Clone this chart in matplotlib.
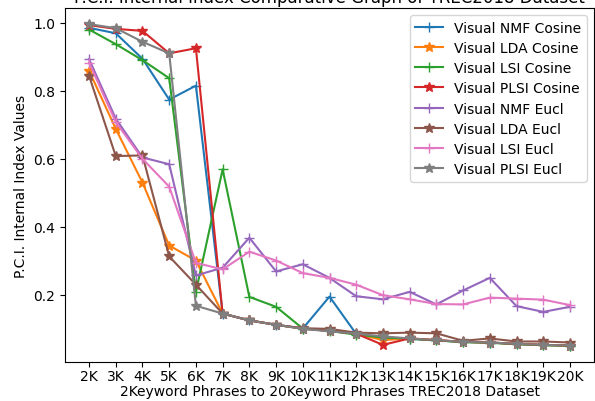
import matplotlib
matplotlib.use("Agg")
import matplotlib.pyplot as plt

labels = ['2K', '3K', '4K', '5K', '6K', '7K', '8K', '9K', '10K', '11K', '12K', '13K',
          '14K', '15K', '16K', '17K', '18K', '19K', '20K']

nmf_cos = [0.985, 0.969, 0.894, 0.774, 0.815, 0.145, 0.125, 0.112, 0.101, 0.195, 0.085,
           0.072, 0.071, 0.066, 0.062, 0.060, 0.056, 0.053, 0.051]
lda_cos = [0.859, 0.688, 0.530, 0.345, 0.301, 0.145, 0.125, 0.112, 0.101, 0.094, 0.086,
           0.067, 0.072, 0.067, 0.062, 0.060, 0.056, 0.053, 0.051]
lsi_cos = [0.980, 0.937, 0.890, 0.837, 0.209, 0.569, 0.194, 0.165, 0.101, 0.094, 0.083,
           0.075, 0.071, 0.066, 0.061, 0.059, 0.055, 0.052, 0.050]
plsi_cos = [0.993, 0.982, 0.976, 0.910, 0.925, 0.145, 0.125, 0.112, 0.101, 0.094, 0.086,
            0.053, 0.072, 0.067, 0.062, 0.060, 0.056, 0.053, 0.051]
nmf_eucl = [0.893, 0.718, 0.604, 0.584, 0.257, 0.280, 0.368, 0.269, 0.290, 0.250, 0.196,
            0.187, 0.209, 0.172, 0.213, 0.250, 0.167, 0.150, 0.165]
lda_eucl = [0.844, 0.608, 0.610, 0.313, 0.230, 0.145, 0.125, 0.112, 0.102, 0.100, 0.089,
            0.087, 0.089, 0.087, 0.065, 0.072, 0.063, 0.063, 0.060]
lsi_eucl = [0.883, 0.708, 0.600, 0.518, 0.294, 0.275, 0.327, 0.301, 0.264, 0.250, 0.230,
            0.199, 0.187, 0.173, 0.172, 0.192, 0.189, 0.186, 0.170]
plsi_eucl = [0.996, 0.984, 0.944, 0.910, 0.168, 0.145, 0.125, 0.112, 0.100, 0.093, 0.086,
             0.078, 0.072, 0.067, 0.062, 0.060, 0.056, 0.053, 0.051]

series = [
    ("Visual NMF Cosine", nmf_cos, '+'),
    ("Visual LDA Cosine", lda_cos, '*'),
    ("Visual LSI Cosine", lsi_cos, '+'),
    ("Visual PLSI Cosine", plsi_cos, '*'),
    ("Visual NMF Eucl", nmf_eucl, '+'),
    ("Visual LDA Eucl", lda_eucl, '*'),
    ("Visual LSI Eucl", lsi_eucl, '+'),
    ("Visual PLSI Eucl", plsi_eucl, '*'),
]

fig = plt.figure(figsize=(5.95, 4.02), dpi=100)
ax = fig.add_axes([65/595, (402-363)/402, (594-65)/595, (363-9)/402])
x = list(range(len(labels)))
for name, vals, m in series:
    ax.plot(x, vals, marker=m, markersize=7, label=name)

ax.set_xticks(x)
ax.set_xticklabels(labels)
ax.set_yticks([0.2, 0.4, 0.6, 0.8, 1.0])
ax.tick_params(axis='x', pad=1.5)
ax.set_xlabel("2Keyword Phrases to 20Keyword Phrases TREC2018 Dataset", labelpad=1)
ax.set_ylabel("P.C.I. Internal Index Values")
ax.set_title("P.C.I. Internal Index Comparative Graph of TREC2018 Dataset", fontsize=12, pad=4)
ax.legend(loc='upper right', labelspacing=0.45)
fig.savefig("out.png", dpi=100)
